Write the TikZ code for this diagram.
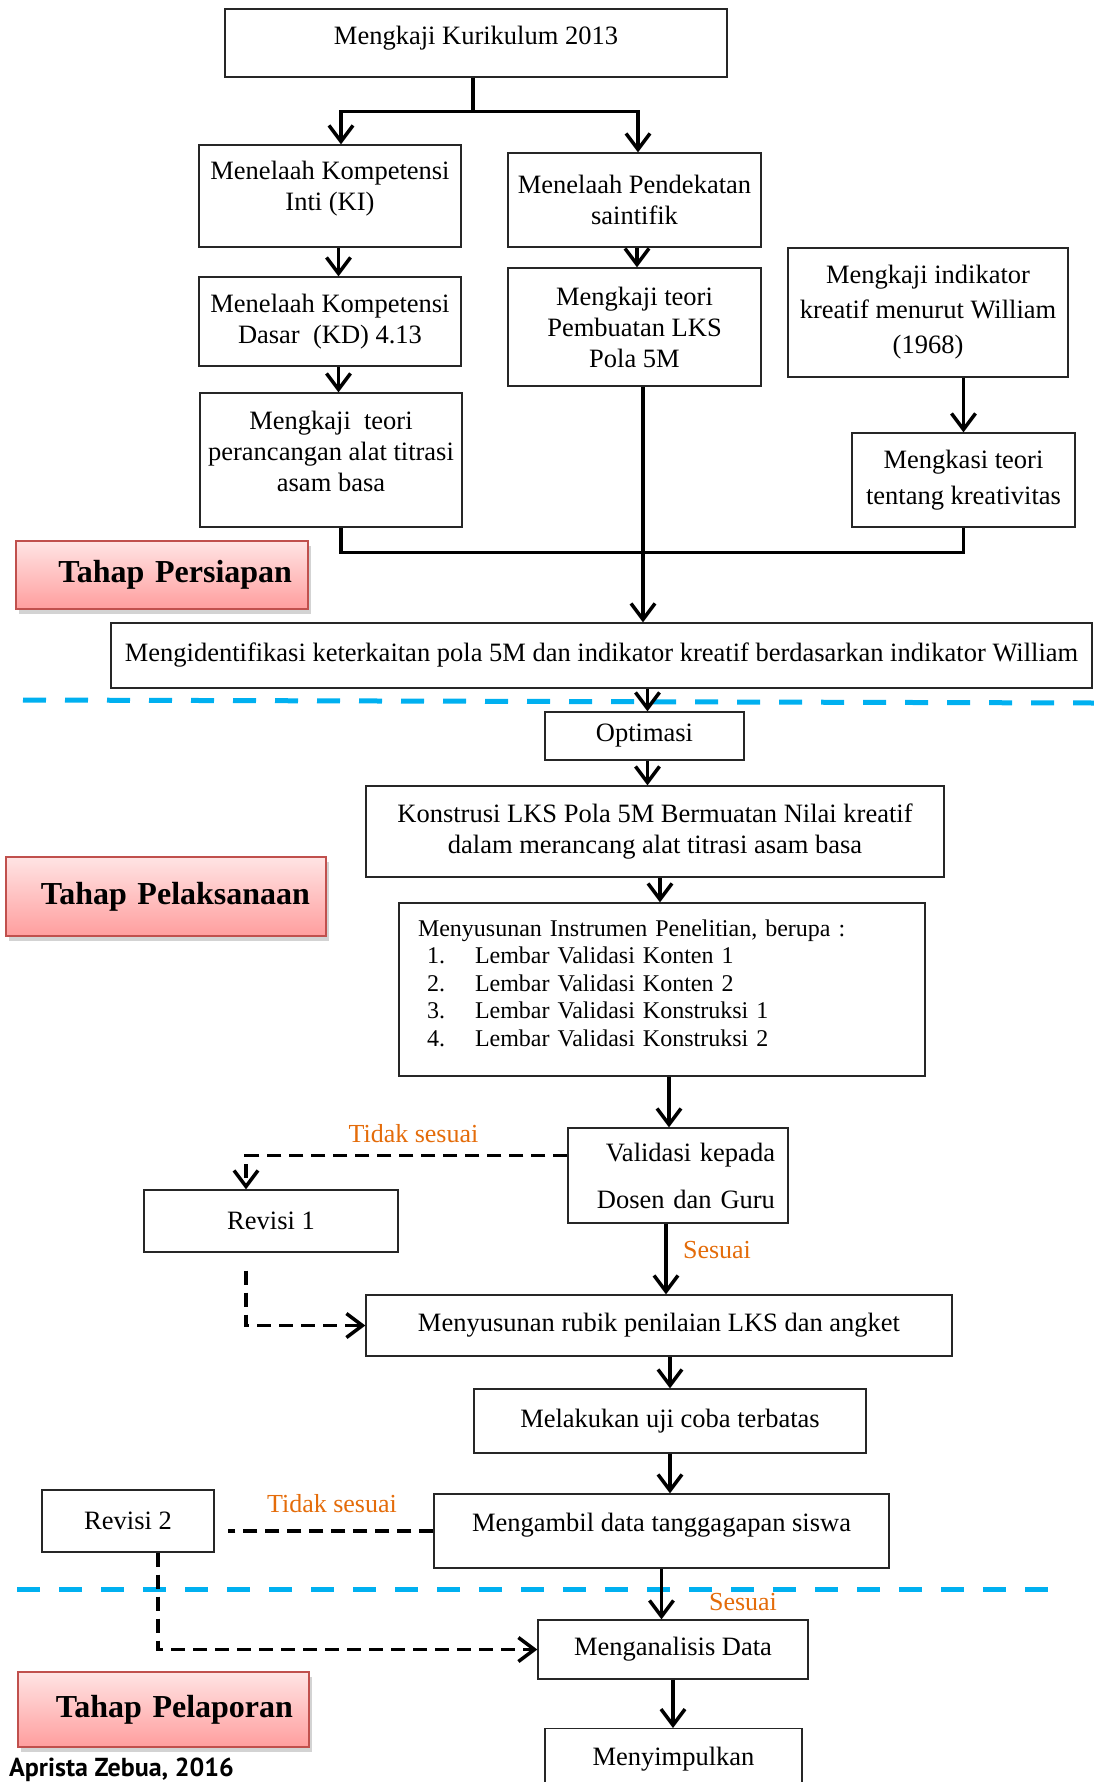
\documentclass[tikz,border=0pt]{standalone}
\usepackage{fontspec}
\setmainfont{Liberation Serif}
\newfontfamily\signfont{PT Sans}
\usetikzlibrary{arrows.meta,shadows}

\definecolor{sepblue}{RGB}{0,176,240}
\definecolor{notecol}{RGB}{228,108,10}
\definecolor{phaseedge}{RGB}{192,80,77}
\definecolor{phasetop}{RGB}{255,228,228}
\definecolor{phasebot}{RGB}{255,158,158}

\begin{document}
\begin{tikzpicture}[x=1pt,y=-1pt,>={Straight Barb[length=16pt,width=24pt]},
  box/.style={draw=black!85,line width=1.3pt,align=center,inner sep=4pt,
    font=\fontsize{26.5}{31}\selectfont},
  phase/.style={draw=phaseedge,line width=2pt,top color=phasetop,bottom color=phasebot,
    drop shadow={shadow xshift=3pt,shadow yshift=-5pt,opacity=.35},
    align=right,inner xsep=16pt,font=\fontsize{32}{38}\selectfont\bfseries},
  flow/.style={->,line width=3.5pt},
  back/.style={->,line width=3.5pt,dash pattern=on 14pt off 8pt},
  note/.style={text=notecol,font=\fontsize{26}{30}\selectfont},
  sepline/.style={sepblue,line width=5pt,dash pattern=on 23pt off 19pt}]
\useasboundingbox (0,0) rectangle (1094,1782);
\clip (0,0) rectangle (1094,1782);

% phase separators
\draw[sepline] (23,700) -- (1094,703);
\draw[sepline] (17,1589) -- (1051,1589);

% Tahap Persiapan
\node[box,minimum width=502pt,minimum height=68pt] (kur) at (476,43) {Mengkaji Kurikulum 2013\\[-16pt]};
\node[box,minimum width=262pt,minimum height=102pt] (ki) at (330,196) {Menelaah Kompetensi\\Inti (KI)\\[-10pt]};
\node[box,minimum width=253pt,minimum height=94pt] (pend) at (634.5,200) {Menelaah Pendekatan\\saintifik};
\node[box,minimum width=262pt,minimum height=89pt] (kd) at (330,321.5) {Menelaah Kompetensi\\Dasar\ \ (KD) 4.13};
\node[box,minimum width=253pt,minimum height=118pt] (lks) at (634.5,327) {Mengkaji teori\\Pembuatan LKS\\Pola 5M};
\node[box,minimum width=262pt,minimum height=134pt] (ranc) at (331,460) {Mengkaji\ \ teori\\perancangan alat titrasi\\asam basa\\[-14pt]};
\node[box,minimum width=280pt,minimum height=129pt] (indi) at (928,312.5) {Mengkaji indikator\\[4pt]kreatif menurut William\\[4pt](1968)};
\node[box,minimum width=223pt,minimum height=94pt] (kreat) at (963.5,480) {Mengkasi teori\\[5pt]tentang kreativitas};
\node[box,minimum width=981pt,minimum height=65pt] (iden) at (601.5,655.5) {Mengidentifikasi keterkaitan pola 5M dan indikator kreatif berdasarkan indikator William};
\node[phase,minimum width=292pt,minimum height=68pt,text width=260pt] (pers) at (162,575) {Tahap Persiapan};

% Tahap Pelaksanaan
\node[box,minimum width=199pt,minimum height=48pt] (opt) at (644.5,736) {Optimasi};
\node[box,minimum width=578pt,minimum height=91pt] (kons) at (655,831.5) {Konstrusi LKS Pola 5M Bermuatan Nilai kreatif\\dalam merancang alat titrasi asam basa};
\node[box,minimum height=173pt,text width=488pt,inner xsep=19pt,align=left,
  font=\fontsize{24}{27.5}\selectfont] (instr) at (662,989.5) {Menyusunan Instrumen Penelitian, berupa :\\
  \hspace*{9pt}\makebox[48pt][l]{1.}Lembar Validasi Konten 1\\
  \hspace*{9pt}\makebox[48pt][l]{2.}Lembar Validasi Konten 2\\
  \hspace*{9pt}\makebox[48pt][l]{3.}Lembar Validasi Konstruksi 1\\
  \hspace*{9pt}\makebox[48pt][l]{4.}Lembar Validasi Konstruksi 2\par\vspace{-14pt}\mbox{}};
\node[box,minimum height=95pt,text width=194pt,inner xsep=13pt,align=right] (vali) at (678,1175.5) {Validasi kepada\\[16pt]Dosen dan Guru};
\node[box,minimum width=254pt,minimum height=62pt] (rev1) at (271,1221) {Revisi 1};
\node[box,minimum width=586pt,minimum height=61pt] (rubik) at (659,1325.5) {Menyusunan rubik penilaian LKS dan angket};
\node[box,minimum width=392pt,minimum height=64pt] (uji) at (670,1421) {Melakukan uji coba terbatas};
\node[box,minimum width=455pt,minimum height=74pt] (ambil) at (661.5,1531) {Mengambil data tanggagapan siswa\\[-14pt]};
\node[box,minimum width=172pt,minimum height=62pt] (rev2) at (128,1521) {Revisi 2};
\node[phase,minimum width=320pt,minimum height=79pt,text width=288pt] (pelak) at (166,896.5) {Tahap Pelaksanaan};

% Tahap Pelaporan
\node[box,minimum width=270pt,minimum height=59pt] (anal) at (673,1649.5) {Menganalisis Data};
\node[box,minimum width=257pt,minimum height=60pt,anchor=north] (simp) at (673.5,1728) {Menyimpulkan};
\node[phase,minimum width=291pt,minimum height=75pt,text width=259pt] (pelap) at (163.5,1709.5) {Tahap Pelaporan};

\node[note] (no1) at (413.5,1134) {Tidak sesuai};
\node[note] (ok1) at (717,1250) {Sesuai};
\node[note] (no2) at (332,1504) {Tidak sesuai};
\node[note] (ok2) at (743,1602) {Sesuai};

\node[anchor=base west,inner sep=0pt,font=\signfont\fontsize{26}{30}\selectfont\bfseries] (sign) at (9,1776) {Aprista Zebua, 2016};

% connectors
\draw[line width=3.5pt] ([xshift=-3pt]kur.south) -- ++(0,34) coordinate (split);
\draw[flow] (split) -| ([xshift=11pt]ki.north);
\draw[flow] (split) -| ([xshift=3.5pt]pend.north);
\draw[flow] ([xshift=8.5pt]ki.south) -- ([xshift=8.5pt]kd.north);
\draw[flow] ([xshift=8.5pt]kd.south) -- ([xshift=8.5pt]kd.south |- ranc.north);
\draw[flow] ([xshift=2.5pt]pend.south) -- ([xshift=2.5pt]lks.north);
\draw[flow] (indi.south -| kreat.north) -- (kreat.north);
\draw[line width=3.5pt] ([xshift=10pt]ranc.south) -- ++(0,25) -| (kreat.south);
\draw[flow] ([xshift=8.5pt]lks.south) -- ([xshift=8.5pt]lks.south |- iden.north);
\draw[flow] ([xshift=3pt]opt.north |- iden.south) -- ([xshift=3pt]opt.north);
\draw[flow] ([xshift=3pt]opt.south) -- ([xshift=3pt]opt.south |- kons.north);
\draw[flow] ([xshift=5pt]kons.south) -- ([xshift=5pt]kons.south |- instr.north);
\draw[flow] ([xshift=7pt]instr.south) -- ([xshift=7pt]instr.south |- vali.north);
\draw[flow] ([xshift=7pt]vali.south -| rubik.north) -- ([xshift=7pt]rubik.north);
\draw[back] ([yshift=20pt]vali.west) -| ([xshift=-25pt]rev1.north);
\draw[back] ([xshift=-25pt,yshift=-18pt]rev1.south) |- (rubik.west);
\draw[flow] (uji.north |- rubik.south) -- (uji.north);
\draw[flow] (uji.south) -- (uji.south |- ambil.north);
\draw[back,-] (ambil.west) -- ([xshift=13pt]ambil.west -| rev2.east);
\draw[back] ([xshift=30pt]rev2.south) |- (anal.west);
\draw[flow] (ambil.south) -- (ambil.south |- anal.north);
\draw[flow] (anal.south) -- (anal.south |- simp.north);

\end{tikzpicture}
\end{document}
